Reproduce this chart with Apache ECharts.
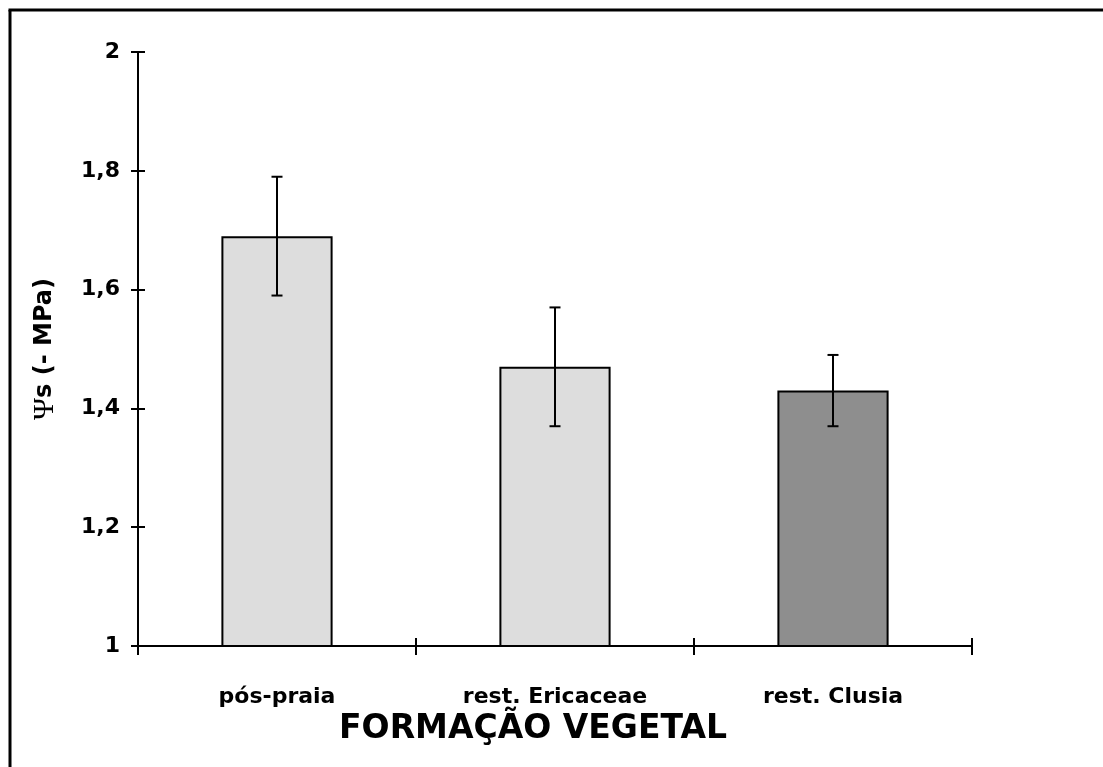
<!DOCTYPE html>
<html>
<head>
<meta charset="utf-8">
<title>Ψs por formação vegetal</title>
<script src="https://cdn.jsdelivr.net/npm/echarts@6/dist/echarts.min.js"></script>
<style>
  html, body { margin: 0; padding: 0; background: #ffffff; }
  #chart { width: 1103px; height: 767px; }
</style>
</head>
<body>
<div id="chart"></div>
<script>
// Osmotic potential (−MPa) by vegetation formation, mean ± error
const categories = ['pós-praia', 'rest. Ericaceae', 'rest. Clusia'];
const means = [1.69, 1.47, 1.43];
const lowerBounds = [1.59, 1.37, 1.37];
const upperBounds = [1.79, 1.57, 1.49];
const yTickLabels = ['1', '1,2', '1,4', '1,6', '1,8', '2'];

const FONT = 'DejaVu Sans';
const LIGHT = '#dddddd';
const DARK = '#8e8e8e';

const chart = echarts.init(document.getElementById('chart'), null, { renderer: 'canvas' });

const errorData = categories.map((c, i) => [i, lowerBounds[i], upperBounds[i]]);

function renderErrorBar(params, api) {
  const x = api.value(0);
  const lo = api.coord([x, api.value(1)]);
  const hi = api.coord([x, api.value(2)]);
  const half = 5.5;
  const style = { stroke: '#000000', lineWidth: 2 };
  return {
    type: 'group',
    children: [
      { type: 'line', shape: { x1: lo[0], y1: lo[1], x2: hi[0], y2: hi[1] }, style },
      { type: 'line', shape: { x1: hi[0] - half, y1: hi[1], x2: hi[0] + half, y2: hi[1] }, style },
      { type: 'line', shape: { x1: lo[0] - half, y1: lo[1], x2: lo[0] + half, y2: lo[1] }, style }
    ]
  };
}

const axisLineStyle = { color: '#000000', width: 2 };

chart.setOption({
  animation: false,
  backgroundColor: '#ffffff',
  grid: { left: 138, right: 131, top: 52, bottom: 121 },
  xAxis: [
    {
      type: 'category',
      data: categories,
      position: 'bottom',
      axisLine: { show: true, lineStyle: axisLineStyle },
      axisTick: { show: true, inside: false, length: 9, lineStyle: axisLineStyle },
      axisLabel: {
        margin: 40,
        color: '#000000',
        fontFamily: FONT,
        fontWeight: 'bold',
        fontSize: 22
      },
      splitLine: { show: false },
      name: 'FORMAÇÃO VEGETAL',
      nameLocation: 'middle',
      nameGap: 63,
      nameTextStyle: {
        color: '#000000',
        fontFamily: FONT,
        fontWeight: 'bold',
        fontSize: 33,
        padding: [0, 44, 0, 0]
      }
    },
    {
      // inner half of the crossing category ticks
      type: 'category',
      data: categories,
      position: 'bottom',
      axisLine: { show: false },
      axisTick: { show: true, inside: true, length: 8, lineStyle: axisLineStyle },
      axisLabel: { show: false },
      splitLine: { show: false }
    }
  ],
  yAxis: [
    {
      type: 'value',
      min: 1,
      max: 2,
      interval: 0.2,
      position: 'left',
      axisLine: { show: true, lineStyle: axisLineStyle },
      axisTick: { show: true, inside: false, length: 7, lineStyle: axisLineStyle },
      axisLabel: {
        margin: 18,
        color: '#000000',
        fontFamily: FONT,
        fontWeight: 'bold',
        fontSize: 22,
        padding: [4, 0, 0, 0],
        formatter: (v, i) => yTickLabels[i]
      },
      splitLine: { show: false },
      name: '{psi|Ψ}{b|s (- MPa)}',
      nameLocation: 'middle',
      nameRotate: 90,
      nameGap: 78,
      nameTextStyle: {
        rich: {
          psi: { fontFamily: 'Liberation Serif', fontWeight: 'normal', fontSize: 30, color: '#000000' },
          b: { fontFamily: FONT, fontWeight: 'bold', fontSize: 24, color: '#000000' }
        }
      }
    },
    {
      // inner half of the crossing value ticks
      type: 'value',
      min: 1,
      max: 2,
      interval: 0.2,
      position: 'left',
      offset: 0,
      axisLine: { show: false },
      axisTick: { show: true, inside: true, length: 7, lineStyle: axisLineStyle },
      axisLabel: { show: false },
      splitLine: { show: false }
    }
  ],
  series: [
    {
      type: 'bar',
      data: means,
      barWidth: '40%',
      itemStyle: {
        color: (p) => (p.dataIndex === 2 ? DARK : LIGHT),
        borderColor: '#000000',
        borderWidth: 2
      }
    },
    {
      type: 'custom',
      data: errorData,
      encode: { x: 0, y: [1, 2] },
      renderItem: renderErrorBar,
      z: 5
    }
  ],
  graphic: [
    { type: 'line', shape: { x1: 10, y1: 10, x2: 10, y2: 767 }, style: { stroke: '#000000', lineWidth: 3 } },
    { type: 'line', shape: { x1: 8.5, y1: 10, x2: 1103, y2: 10 }, style: { stroke: '#000000', lineWidth: 3 } }
  ]
});
</script>
</body>
</html>
